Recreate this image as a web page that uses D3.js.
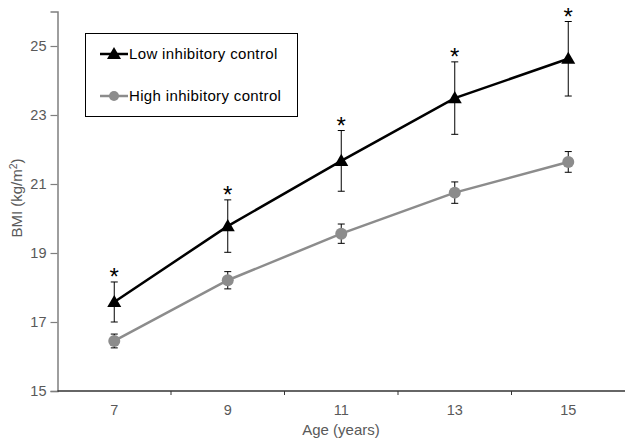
<!DOCTYPE html>
<html><head><meta charset="utf-8">
<script src="https://cdn.jsdelivr.net/npm/d3@7"></script>
<style>body{margin:0;background:#fff}svg{display:block}text{font-family:"Liberation Sans",Arial,sans-serif}</style>
</head><body>
<svg id="chart" width="629" height="445"></svg>
<script>
const ages = ["7", "9", "11", "13", "15"];
const lowMean = [17.58, 19.78, 21.67, 23.49, 24.63];
const lowErr = [0.58, 0.76, 0.88, 1.05, 1.08];
const highMean = [16.45, 18.21, 19.56, 20.75, 21.64];
const highErr = [0.2, 0.25, 0.28, 0.31, 0.3];
const significant = [true, true, true, true, true];
const yTicks = [15, 17, 19, 21, 23, 25];
const seriesNames = ["Low inhibitory control", "High inhibitory control"];

const svg = d3.select("#chart");
const x = d3.scaleBand().domain(ages).range([57.5, 625]).paddingInner(0).paddingOuter(0);
const y = d3.scaleLinear().domain([15, 26]).range([391, 11.5]);
const cx = d => x(d) + x.bandwidth() / 2;

// y axis
const yAxis = svg.append("g").attr("transform", "translate(57.5,0)")
  .call(d3.axisLeft(y).tickValues(yTicks).tickSize(7).tickPadding(4));
yAxis.select(".domain").attr("stroke", "#7f7f7f").attr("stroke-width", 1.5);
yAxis.selectAll(".tick line").attr("stroke", "#7f7f7f").attr("stroke-width", 1.2);
yAxis.selectAll(".tick text").attr("fill", "#595959").style("font-size", "14.5px").style("font-family", "Liberation Sans, Arial, sans-serif");

// x axis: labels centred, ticks at band boundaries
const xAxis = svg.append("g").attr("transform", "translate(0,391)")
  .call(d3.axisBottom(x).tickSize(0).tickPadding(14));
xAxis.select(".domain").remove();
xAxis.selectAll(".tick text").attr("fill", "#595959").style("font-size", "14.5px").style("font-family", "Liberation Sans, Arial, sans-serif");
svg.append("line").attr("x1", 57.5).attr("x2", 625).attr("y1", 391).attr("y2", 391).attr("stroke", "#333").attr("stroke-width", 1.3);
svg.selectAll(".xb").data(ages.slice(1)).enter().append("line")
  .attr("x1", d => x(d)).attr("x2", d => x(d)).attr("y1", 391).attr("y2", 395)
  .attr("stroke", "#333").attr("stroke-width", 1);

// axis titles
svg.append("text").attr("x", 341).attr("y", 435).attr("text-anchor", "middle")
  .attr("fill", "#595959").style("font-size", "15px").text("Age (years)");
const yt = svg.append("text").attr("transform", "translate(22,198) rotate(-90)").attr("text-anchor", "middle")
  .attr("fill", "#595959").style("font-size", "15px");
yt.append("tspan").text("BMI (kg/m");
yt.append("tspan").attr("dy", -5).style("font-size", "10.5px").text("2");
yt.append("tspan").attr("dy", 5).text(")");

const line = d3.line().x((d, i) => cx(ages[i])).y(d => y(d));

function drawErr(means, errs) {
  const g = svg.append("g").attr("stroke", "#000").attr("stroke-width", 1);
  means.forEach((m, i) => {
    const X = cx(ages[i]);
    g.append("line").attr("x1", X).attr("x2", X).attr("y1", y(m - errs[i])).attr("y2", y(m + errs[i]));
    [m - errs[i], m + errs[i]].forEach(v => g.append("line").attr("x1", X - 3.5).attr("x2", X + 3.5).attr("y1", y(v)).attr("y2", y(v)));
  });
}

// high series
svg.append("path").datum(highMean).attr("d", line).attr("fill", "none").attr("stroke", "#8c8c8c").attr("stroke-width", 2.5);
drawErr(highMean, highErr);
svg.selectAll(".hc").data(highMean).enter().append("circle")
  .attr("cx", (d, i) => cx(ages[i])).attr("cy", d => y(d)).attr("r", 6).attr("fill", "#8c8c8c");

// low series
svg.append("path").datum(lowMean).attr("d", line).attr("fill", "none").attr("stroke", "#000").attr("stroke-width", 2.5);
drawErr(lowMean, lowErr);
const tri = d3.symbol().type(d3.symbolTriangle).size(85);
svg.selectAll(".lt").data(lowMean).enter().append("path")
  .attr("d", tri).attr("transform", (d, i) => `translate(${cx(ages[i])},${y(d) + 1})`).attr("fill", "#000");

// asterisks
svg.selectAll(".ast").data(lowMean).enter().filter((d, i) => significant[i]).append("text")
  .attr("x", (d, i) => cx(ages[i])).attr("y", (d, i) => y(d + lowErr[i]) + 3).attr("text-anchor", "middle")
  .attr("fill", "#000").style("font-size", "24px").text("*");

// legend
const lg = svg.append("g");
lg.append("rect").attr("x", 85.5).attr("y", 33.5).attr("width", 212).attr("height", 83)
  .attr("fill", "#fff").attr("stroke", "#000").attr("stroke-width", 1);
const rows = [{name: seriesNames[0], color: "#000", y: 54, shape: "tri"}, {name: seriesNames[1], color: "#8c8c8c", y: 96, shape: "circ"}];
rows.forEach(r => {
  lg.append("line").attr("x1", 100).attr("x2", 128).attr("y1", r.y).attr("y2", r.y).attr("stroke", r.color).attr("stroke-width", 2.5);
  if (r.shape === "tri") lg.append("path").attr("d", tri).attr("transform", `translate(114,${r.y + 1})`).attr("fill", r.color);
  else lg.append("circle").attr("cx", 114).attr("cy", r.y).attr("r", 5).attr("fill", r.color);
  lg.append("text").attr("x", 129).attr("y", r.y + 5).attr("fill", "#000").style("font-size", "15px").style("letter-spacing", "0.35px").text(r.name);
});
</script>
</body></html>
